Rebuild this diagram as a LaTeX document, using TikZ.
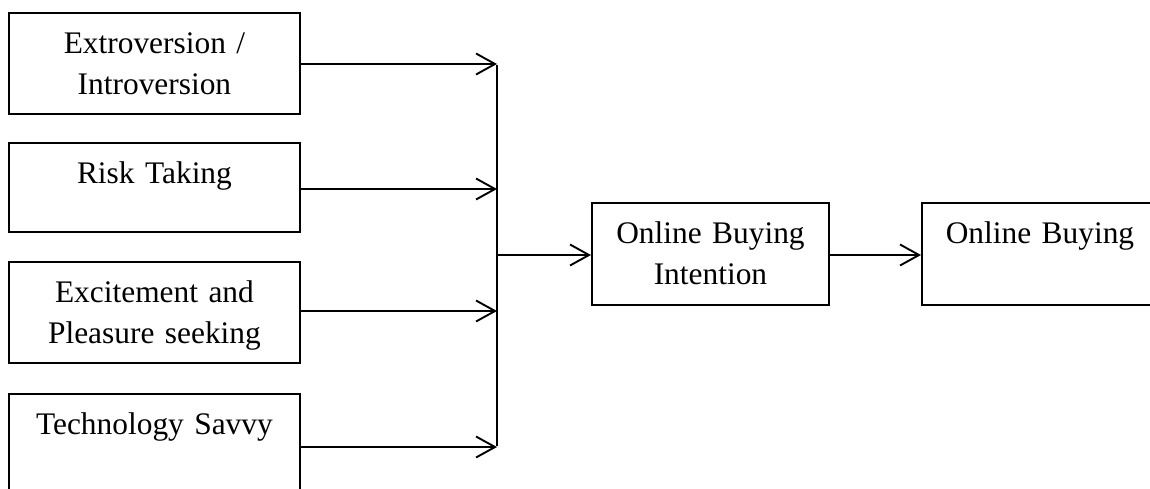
\documentclass[tikz,border=0pt]{standalone}
\usepackage{fontspec}
\setmainfont{Liberation Serif}
\usetikzlibrary{arrows.meta}
\begin{document}
\begin{tikzpicture}[x=1pt,y=-1pt,
  box/.style={draw, line width=1.9pt, inner sep=0pt, align=center,
    text height=41pt, anchor=north west,
    font=\fontsize{31.4}{41}\selectfont},
  arr/.style={line width=1.9pt, -{Straight Barb[length=19pt,width=21pt,line width=1.9pt]}},
  wire/.style={line width=1.9pt}]
\useasboundingbox (0,0) rectangle (1150,488);
\clip (0,0) rectangle (1150,488);
\node[box, text width=291pt, text depth=60pt] (b1) at (8,12) {Extroversion /\\Introversion};
\node[box, text width=291pt, text depth=48pt] (b2) at (8,142) {Risk Taking};
\node[box, text width=291pt, text depth=60pt] (b3) at (8,261) {Excitement and\\Pleasure seeking};
\node[box, text width=291pt, text depth=60pt] (b4) at (8,393) {Technology Savvy};
\node[box, text width=237pt, text depth=61pt] (obi) at (591,202) {Online Buying\\Intention};
\node[box, text width=236pt, text depth=61pt] (rb) at (921,202) {Online Buying};
\coordinate (bus) at (497,255);
\coordinate (t1) at (497,64);
\coordinate (t2) at (497,189);
\coordinate (t3) at (497,311);
\coordinate (t4) at (497,447);
\draw[arr] (b1.east |- t1) -- (t1);
\draw[arr] (b2.east |- t2) -- (t2);
\draw[arr] (b3.east |- t3) -- (t3);
\draw[arr] (b4.east |- t4) -- (t4);
\draw[wire] ([yshift=-0.95pt]t1) -- ([yshift=0.95pt]t4);
\draw[arr] (bus) -- (bus -| obi.west);
\draw[arr] (obi.east |- bus) -- (rb.west |- bus);
\end{tikzpicture}
\end{document}
